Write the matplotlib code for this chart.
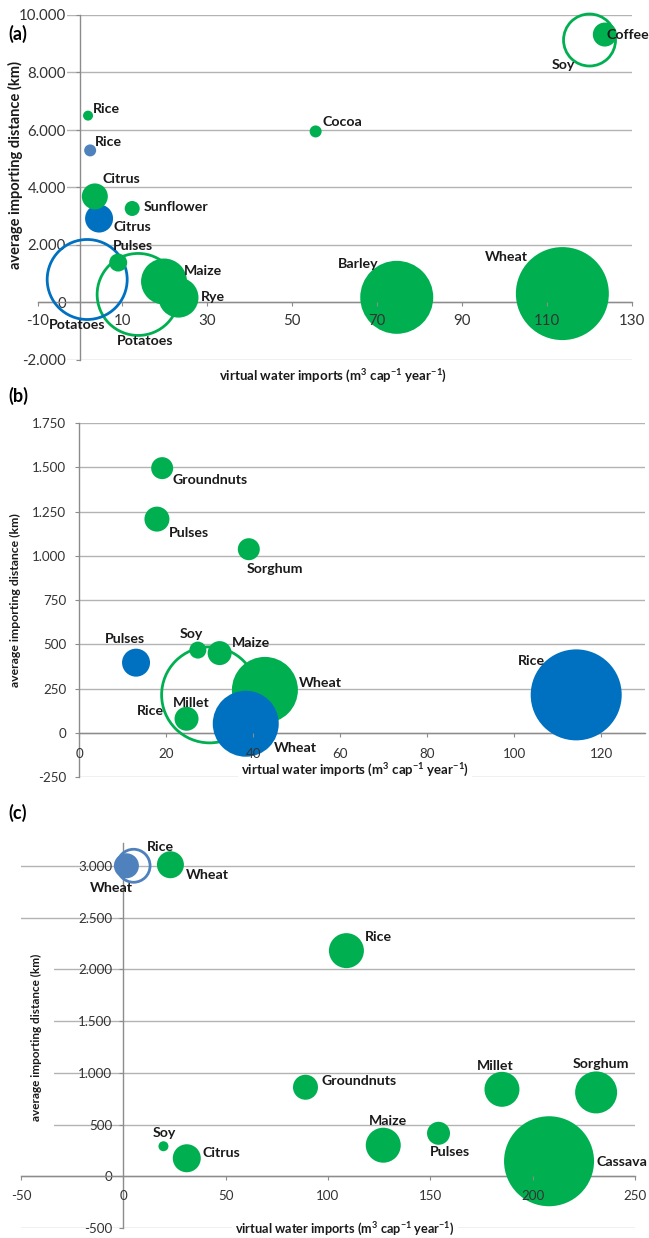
import matplotlib
matplotlib.use('Agg')
import matplotlib.pyplot as plt
from matplotlib.ticker import FuncFormatter, MultipleLocator

plt.rcParams['font.family'] = ['Lato', 'DejaVu Sans']
plt.rcParams['mathtext.fontset'] = 'custom'
plt.rcParams['mathtext.rm'] = 'Lato:bold'
plt.rcParams['mathtext.it'] = 'Lato:bold'
plt.rcParams['mathtext.bf'] = 'Lato:bold'
plt.rcParams['mathtext.default'] = 'rm'

GREEN = '#00B050'
BLUE = '#0070C0'
LBLUE = '#4F81BD'
GRID = '#B3B3B3'
AXC = '#8C8C8C'
TXT = '#1A1A1A'

# ---------------- Panel (a) data ----------------
a_green_names = ['Rice', 'Citrus', 'Sunflower', 'Pulses', 'Maize', 'Rye', 'Cocoa', 'Coffee', 'Barley', 'Wheat']
a_green_x = [1.9, 3.5, 12.3, 9.0, 19.8, 23.2, 55.5, 123.6, 74.6, 113.6]
a_green_y = [6500, 3690, 3270, 1390, 730, 170, 5950, 9320, 180, 310]
a_green_size = [10, 26, 15, 18, 46, 40, 12, 24, 73, 93]

a_blue_names = ['Citrus']
a_blue_x = [4.5]
a_blue_y = [2920]
a_blue_size = [28]

a_lblue_names = ['Rice']
a_lblue_x = [2.4]
a_lblue_y = [5290]
a_lblue_size = [12]

a_ghollow_names = ['Potatoes', 'Soy']
a_ghollow_x = [13.7, 120.0]
a_ghollow_y = [280, 9130]
a_ghollow_size = [82, 52]

a_bhollow_names = ['Potatoes']
a_bhollow_x = [1.7]
a_bhollow_y = [800]
a_bhollow_size = [80]

# ---------------- Panel (b) data ----------------
b_green_names = ['Groundnuts', 'Pulses', 'Sorghum', 'Soy', 'Maize', 'Millet', 'Wheat']
b_green_x = [19.1, 17.9, 39.0, 27.3, 32.3, 24.7, 42.7]
b_green_y = [1495, 1207, 1037, 467, 450, 79, 242]
b_green_size = [22, 25, 22, 17, 24, 24, 66]

b_blue_names = ['Pulses', 'Wheat', 'Rice']
b_blue_x = [13.1, 38.3, 114.2]
b_blue_y = [396, 51, 214]
b_blue_size = [28, 66, 91]

b_ghollow_names = ['Rice']
b_ghollow_x = [30.0]
b_ghollow_y = [214]
b_ghollow_size = [96]

# ---------------- Panel (c) data ----------------
c_green_names = ['Wheat', 'Rice', 'Groundnuts', 'Soy', 'Citrus', 'Maize', 'Pulses', 'Millet', 'Sorghum', 'Cassava']
c_green_x = [23, 109, 89, 19.6, 31, 127, 154, 185, 231, 208]
c_green_y = [3010, 2180, 860, 290, 174, 300, 415, 840, 810, 145]
c_green_size = [27, 35, 25, 10, 28, 35, 23, 35, 42, 90]

c_lblue_names = ['Wheat']
c_lblue_x = [1.5]
c_lblue_y = [3000]
c_lblue_size = [25]

c_bhollow_names = ['Rice']
c_bhollow_x = [5]
c_bhollow_y = [3000]
c_bhollow_size = [33]

# label offsets (pixels: dx right, dy down) -- styling only
a_green_off = [(5, -7), (8, -17), (11, -1), (-5, -17), (20, -11), (22, -1), (7, -9), (2, 0), (-59, -33), (-77, -37)]
a_blue_off = [(14, 8)]
a_lblue_off = [(5, -8)]
a_ghollow_off = [(-21, 47), (-38, 25)]
a_bhollow_off = [(-38, 46)]

b_green_off = [(10, 12), (12, 14), (-2, 20), (-18, -16), (12, -10), (-14, -16), (34, -7)]
b_blue_off = [(-31, -24), (28, 24), (-58, -34)]
b_ghollow_off = [(-73, 16)]

c_green_off = [(15, 10), (18, -14), (16, -6), (-11, -13), (16, -5), (-14, -24), (-9, 19), (-25, -23), (-23, -28), (47, 1)]
c_lblue_off = [(-37, 22)]
c_bhollow_off = [(13, -19)]

W, H = 649, 1238
fig = plt.figure(figsize=(W / 100, H / 100), dpi=100)

LFS = 10.2   # bubble label font size
TFS = 9.6    # tick label font size


def add_ax(l, t, r, b):
    return fig.add_axes([l / W, 1 - b / H, (r - l) / W, (b - t) / H])


def fmt(v, pos):
    v = int(round(v))
    s = f"{abs(v):,}".replace(',', '.')
    return ('-' if v < 0 else '') + s


def style(ax, xlim, ylim, xstep, ystep, yticks_max, fs, ypad, xpad, label_bg=False):
    ax.set_xlim(*xlim)
    ax.set_ylim(*ylim)
    ax.xaxis.set_major_locator(MultipleLocator(xstep))
    yt = list(range(int(ylim[0]), int(yticks_max) + 1, int(ystep)))
    ax.set_yticks(yt)
    ax.yaxis.set_major_formatter(FuncFormatter(fmt))
    ax.xaxis.set_major_formatter(FuncFormatter(fmt))
    for s in ['top', 'right']:
        ax.spines[s].set_visible(False)
    ax.spines['left'].set_position(('data', 0))
    ax.spines['bottom'].set_position(('data', 0))
    for s in ['left', 'bottom']:
        ax.spines[s].set_color(AXC)
        ax.spines[s].set_linewidth(1.0)
    ax.yaxis.grid(True, color=GRID, lw=1.0)
    ax.set_axisbelow(True)
    ax.tick_params(axis='both', colors=AXC, labelcolor='#333333', labelsize=fs, length=3)
    ax.tick_params(axis='y', pad=ypad)
    ax.tick_params(axis='x', pad=xpad)
    ax.xaxis.set_zorder(8)
    ax.patch.set_alpha(0)
    if label_bg:
        for lab in ax.get_yticklabels():
            lab.set_bbox(dict(facecolor='white', edgecolor='none', pad=1.0))


def bubbles(ax, names, xs, ys, sizes, offs, color, filled, z, fs):
    s = [(d * 0.72) ** 2 for d in sizes]
    if filled:
        ax.scatter(xs, ys, s=s, c=color, edgecolors='none', zorder=z, clip_on=False)
    else:
        ax.scatter(xs, ys, s=s, facecolors='none', edgecolors=color, linewidths=2.0, zorder=z, clip_on=False)
    for n, x, y, (dx, dy) in zip(names, xs, ys, offs):
        ax.annotate(n, (x, y), xytext=(dx * 0.72, -dy * 0.72), textcoords='offset points',
                    ha='left', va='center', fontsize=fs, fontweight='bold', color=TXT, zorder=10)


XT = r'virtual water imports (m$^{3}$ cap$^{-1}$ year$^{-1}$)'
YT = 'average importing distance (km)'

# ---------- (a) ----------
axa = add_ax(37.5, 15, 632, 360)
style(axa, (-10, 130), (-2000, 10000), 20, 2000, 10000, 10.8, 7, 5, label_bg=True)
axa.set_xticks([-10, 10, 30, 50, 70, 90, 110, 130])
bubbles(axa, a_ghollow_names, a_ghollow_x, a_ghollow_y, a_ghollow_size, a_ghollow_off, GREEN, False, 3, LFS)
bubbles(axa, a_bhollow_names, a_bhollow_x, a_bhollow_y, a_bhollow_size, a_bhollow_off, BLUE, False, 3, LFS)
bubbles(axa, a_blue_names, a_blue_x, a_blue_y, a_blue_size, a_blue_off, BLUE, True, 4, LFS)
bubbles(axa, a_lblue_names, a_lblue_x, a_lblue_y, a_lblue_size, a_lblue_off, LBLUE, True, 4, LFS)
bubbles(axa, a_green_names, a_green_x, a_green_y, a_green_size, a_green_off, GREEN, True, 5, LFS)

# ---------- (b) ----------
axb = add_ax(79, 423, 645, 777)
style(axb, (0, 130), (-250, 1750), 20, 250, 1750, TFS, 6, 8)
axb.set_xticks([0, 20, 40, 60, 80, 100, 120])
bubbles(axb, b_ghollow_names, b_ghollow_x, b_ghollow_y, b_ghollow_size, b_ghollow_off, GREEN, False, 3, LFS)
bubbles(axb, b_green_names, b_green_x, b_green_y, b_green_size, b_green_off, GREEN, True, 4, LFS)
bubbles(axb, b_blue_names, b_blue_x, b_blue_y, b_blue_size, b_blue_off, BLUE, True, 5, LFS)

# ---------- (c) ----------
axc = add_ax(21, 843, 635, 1228)
style(axc, (-50, 250), (-500, 3220), 50, 500, 3000, TFS, 5, 7)
bubbles(axc, c_bhollow_names, c_bhollow_x, c_bhollow_y, c_bhollow_size, c_bhollow_off, LBLUE, False, 3, LFS)
bubbles(axc, c_lblue_names, c_lblue_x, c_lblue_y, c_lblue_size, c_lblue_off, LBLUE, True, 4, LFS)
bubbles(axc, c_green_names, c_green_x, c_green_y, c_green_size, c_green_off, GREEN, True, 5, LFS)

# ---------- titles ----------
def ftext(x, y, s, **kw):
    fig.text(x / W, 1 - y / H, s, **kw)

bb = dict(facecolor='white', edgecolor='none', pad=2)
bbc = dict(facecolor='white', edgecolor='none', pad=9)
ftext(333, 376, XT, ha='center', va='center', fontsize=9.5, fontweight='bold', color=TXT, bbox=bb)
ftext(355, 770, XT, ha='center', va='center', fontsize=9.5, fontweight='bold', color=TXT, bbox=bb)
ftext(345, 1229, XT, ha='center', va='center', fontsize=9.2, fontweight='bold', color=TXT, bbox=bb)

ftext(15, 165, YT, ha='center', va='center', rotation=90, fontsize=10.5, fontweight='bold', color=TXT, bbox=bb)
ftext(15, 600, YT, ha='center', va='center', rotation=90, fontsize=8.8, fontweight='bold', color=TXT, bbox=bb)
ftext(36, 1037, YT, ha='center', va='center', rotation=90, fontsize=8.5, fontweight='bold', color=TXT, bbox=bbc)

ftext(8, 34, '(a)', ha='left', va='center', fontsize=13, fontweight='bold', color='black')
ftext(8, 396, '(b)', ha='left', va='center', fontsize=13, fontweight='bold', color='black')
ftext(8, 813, '(c)', ha='left', va='center', fontsize=13, fontweight='bold', color='black')

fig.savefig('out.png', dpi=100)
